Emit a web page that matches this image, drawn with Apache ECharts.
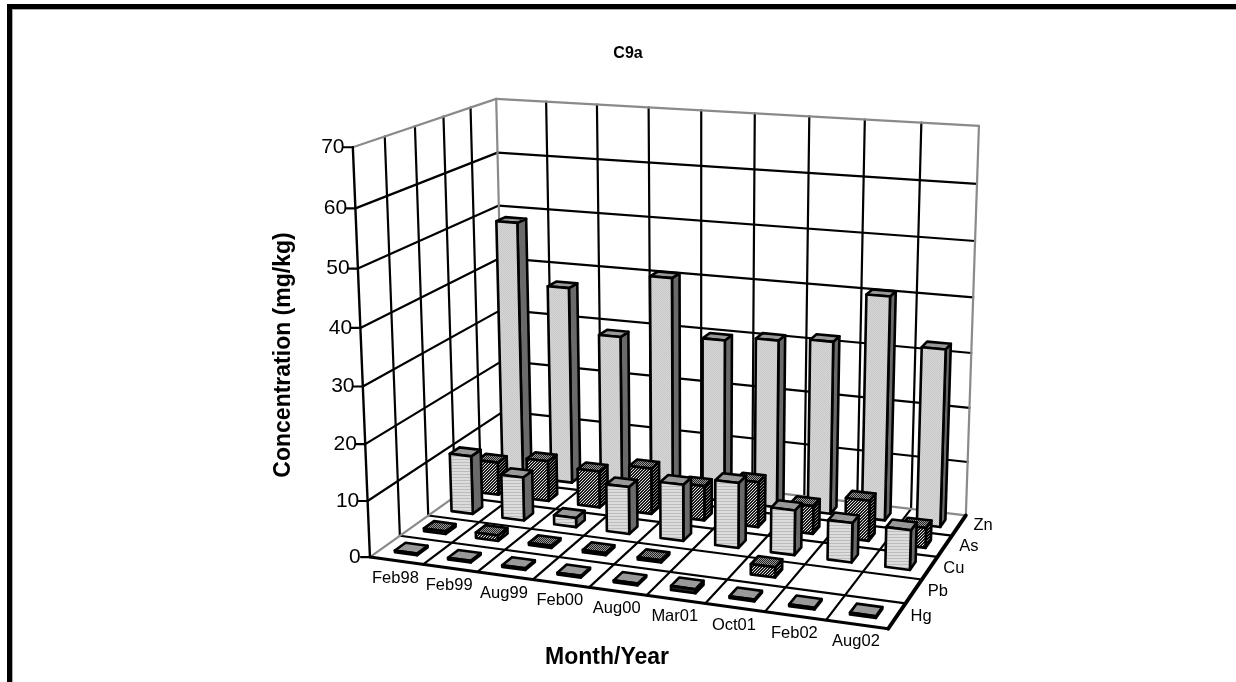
<!DOCTYPE html>
<html><head><meta charset="utf-8">
<style>html,body{margin:0;padding:0;background:#fff}#c{width:1236px;height:682px}</style>
<script src="https://cdn.jsdelivr.net/npm/echarts@6/dist/echarts.min.js"></script>
</head><body><div id="c"></div>
<script>
const categories = ['Feb98','Feb99','Aug99','Feb00','Aug00','Mar01','Oct01','Feb02','Aug02'];
const rows = ['Hg','Pb','Cu','As','Zn'];
const yTicks = [0,10,20,30,40,50,60,70];
const Hg = [0.3,0.3,0.3,0.3,0.3,0.7,0.3,0.3,0.3];
const Pb = [0.5,1,0.4,0.4,0.4,null,1.8,null,null];
const Cu = [10.8,8,1.7,8.6,10.2,11.7,8,7,7];
const As = [6.2,7.6,6.8,8.5,6.4,8.3,5.1,7.3,3.6];
const Zn = [48.7,37.3,29,40.8,30.2,31.1,31.8,40.8,32.3];
const rowValues = [Hg,Pb,Cu,As,Zn];

// camera calibration: 3D box corners (column, depth row, value) seen on screen
const calib = [
 [0,0,0,370,557],[9,0,0,888,629],[9,5,0,966,515],[0,5,0,505,461],
 [0,0,70,353,147],[0,5,70,496,99],[9,5,70,979,126]];
function solveCamera(pts){
  const A=[],b=[];
  pts.forEach(([x,y,z,u,v])=>{
    A.push([x,y,z,1,0,0,0,0,-u*x,-u*y,-u*z]);b.push(u);
    A.push([0,0,0,0,x,y,z,1,-v*x,-v*y,-v*z]);b.push(v);
  });
  const n=11,M=[];
  for(let i=0;i<n;i++){M[i]=[];for(let j=0;j<=n;j++){let s=0;for(let k=0;k<A.length;k++)s+=A[k][i]*(j<n?A[k][j]:b[k]);M[i][j]=s;}}
  for(let i=0;i<n;i++){let p=i;for(let r=i+1;r<n;r++)if(Math.abs(M[r][i])>Math.abs(M[p][i]))p=r;
    [M[i],M[p]]=[M[p],M[i]];
    for(let r=0;r<n;r++)if(r!==i){const f=M[r][i]/M[i][i];for(let c=i;c<=n;c++)M[r][c]-=f*M[i][c];}}
  return M.map((r,i)=>r[n]/r[i]);
}
const H=solveCamera(calib);
function P(x,y,z){const w=H[8]*x+H[9]*y+H[10]*z+1;
  return [(H[0]*x+H[1]*y+H[2]*z+H[3])/w,(H[4]*x+H[5]*y+H[6]*z+H[7])/w];}

function pat(size,draw){const c=document.createElement('canvas');c.width=c.height=size;const g=c.getContext('2d');
  for(let y=0;y<size;y++)for(let x=0;x<size;x++){g.fillStyle=draw(x,y);g.fillRect(x,y,1,1);}
  return {image:c,repeat:'repeat'};}
const stripes=pat(3,(x,y)=>y%3===0?'#bcbcbc':'#dcdcdc');
const dots=pat(2,(x,y)=>((x+y)%2===0)?'#c8c8c8':'#d6d6d6');
const diag=pat(3,(x,y)=>((x+y)%3===0)?'#ddd':'#1a1a1a');
const diagD=pat(3,(x,y)=>((x+y)%3===0)?'#888':'#000');
const diagT=pat(2,(x,y)=>((x+y)%2===0)?'#222':'#999');
const rowStyle=[
 {front:'#222',side:'#222',top:'#999'},
 {front:diag,side:diagD,top:diagT},
 {front:stripes,side:'#6a6a6a',top:'#999'},
 {front:diag,side:diagD,top:diagT},
 {front:dots,side:'#6a6a6a',top:'#999'}];
const gridBox={left:0,top:0,width:900,height:600};
const BW=0.42,BD=0.36;

function quad(pts,fill,w){return {type:'polygon',shape:{points:pts},style:{fill:fill,stroke:'#000',lineWidth:w||2.6,lineJoin:'round'}};}
function line(a,b,c,w){return {type:'line',shape:{x1:a[0],y1:a[1],x2:b[0],y2:b[1]},style:{stroke:c||'#000',lineWidth:w||2.2,lineCap:'round'}};}
function txt(p,t,size,opt){return Object.assign({type:'text',x:p[0],y:p[1],style:{text:t,fill:'#000',font:(size)+'px "Liberation Sans"',align:'center',verticalAlign:'middle'}},opt||{});}

function barRender(r){return function(params,api){
  const cat=api.value(0),val=api.value(1);
  if(val==null||isNaN(val))return null;
  const c=api.coord([cat,val]);
  const x=(c[0]-gridBox.left)/gridBox.width*categories.length;
  const z=(gridBox.top+gridBox.height-c[1])/gridBox.height*70;
  const d0=r+0.5-BD/2,d1=r+0.5+BD/2,x0=x-BW/2,x1=x+BW/2;
  const s=rowStyle[r];
  return {type:'group',children:[
    quad([P(x1,d0,0),P(x1,d1,0),P(x1,d1,z),P(x1,d0,z)],s.side),
    quad([P(x0,d0,z),P(x1,d0,z),P(x1,d1,z),P(x0,d1,z)],s.top),
    quad([P(x0,d0,0),P(x1,d0,0),P(x1,d0,z),P(x0,d0,z)],s.front)
  ]};
};}

function boxRender(){
  const nx=categories.length,nd=rows.length,top=70,ch=[];
  const gray='#8a8a8a';
  yTicks.slice(1,-1).forEach(t=>{
    ch.push(line(P(0,nd,t),P(nx,nd,t)));
    ch.push(line(P(0,0,t),P(0,nd,t)));
  });
  for(let i=1;i<nx;i++)ch.push(line(P(i,nd,0),P(i,nd,top)));
  for(let i=1;i<nd;i++)ch.push(line(P(0,i,0),P(0,i,top)));
  for(let i=1;i<nx;i++)ch.push(line(P(i,0,0),P(i,nd,0)));
  for(let i=1;i<nd;i++)ch.push(line(P(0,i,0),P(nx,i,0)));
  [[P(0,0,top),P(0,nd,top)],[P(0,nd,top),P(nx,nd,top)],[P(nx,nd,top),P(nx,nd,0)],[P(0,nd,top),P(0,nd,0)],
   [P(0,nd,0),P(nx,nd,0)],[P(0,0,0),P(0,nd,0)]].forEach(s=>ch.push(line(s[0],s[1],gray,2.2)));
  ch.push(line(P(0,0,0),P(0,0,top),'#000',2.4));
  ch.push(line(P(0,0,0),P(nx,0,0),'#000',3));
  ch.push(line(P(nx,0,0),P(nx,nd,0),'#000',3.8));
  yTicks.forEach(t=>{const p=P(0,0,t);
    ch.push(line([p[0]-9,p[1]],p,'#000',2.2));
    ch.push(txt([p[0]-9-t.toString().length*6-(t?-1:0),p[1]],String(t),21));});
  categories.forEach((c,i)=>{const p=P(i+0.5,0,0);ch.push(txt([p[0]-1,p[1]+17.5],c,16.5));});
  rows.forEach((c,i)=>{const p=P(nx,i+0.5,0);ch.push(txt([p[0]+24,p[1]+0.5],c,16.5));});
  return {type:'group',children:ch};
}

const series=rows.map((name,r)=>({
  name,type:'custom',coordinateSystem:'cartesian2d',z:10+(rows.length-r),silent:true,
  renderItem:barRender(r),encode:{x:0,y:1},
  data:rowValues[r].map((v,i)=>[categories[i],v])
})).reverse();
series.unshift({type:'custom',name:'box',coordinateSystem:'none',z:2,silent:true,renderItem:boxRender,data:[[0]]});

const chart=echarts.init(document.getElementById('c'),null,{renderer:'canvas'});
chart.setOption({
  animation:false,backgroundColor:'#fff',
  grid:gridBox,
  xAxis:{type:'category',data:categories,show:false},
  yAxis:{type:'value',min:0,max:70,interval:10,show:false},
  title:{text:'C9a',left:623,top:41,textAlign:'center',textStyle:{fontFamily:'Liberation Sans',fontWeight:'bold',fontSize:16,color:'#000'}},
  graphic:[
    {type:'rect',shape:{x:7,y:4,width:1229,height:5},style:{fill:'#000'},z:100},
    {type:'rect',shape:{x:7,y:4,width:5,height:678},style:{fill:'#000'},z:100},
    {type:'rect',shape:{x:12,y:9,width:1224,height:1},style:{fill:'#aaa'},z:100},
    {type:'rect',shape:{x:12,y:9,width:1,height:673},style:{fill:'#aaa'},z:100},
    {type:'text',x:284,y:355,rotation:Math.PI/2,z:100,style:{text:'Concentration (mg/kg)',font:'bold 23px "Liberation Sans"',fill:'#000',align:'center',verticalAlign:'middle'}},
    {type:'text',x:607,y:658,z:100,style:{text:'Month/Year',font:'bold 23px "Liberation Sans"',fill:'#000',align:'center',verticalAlign:'middle'}}
  ],
  series
});
</script></body></html>
